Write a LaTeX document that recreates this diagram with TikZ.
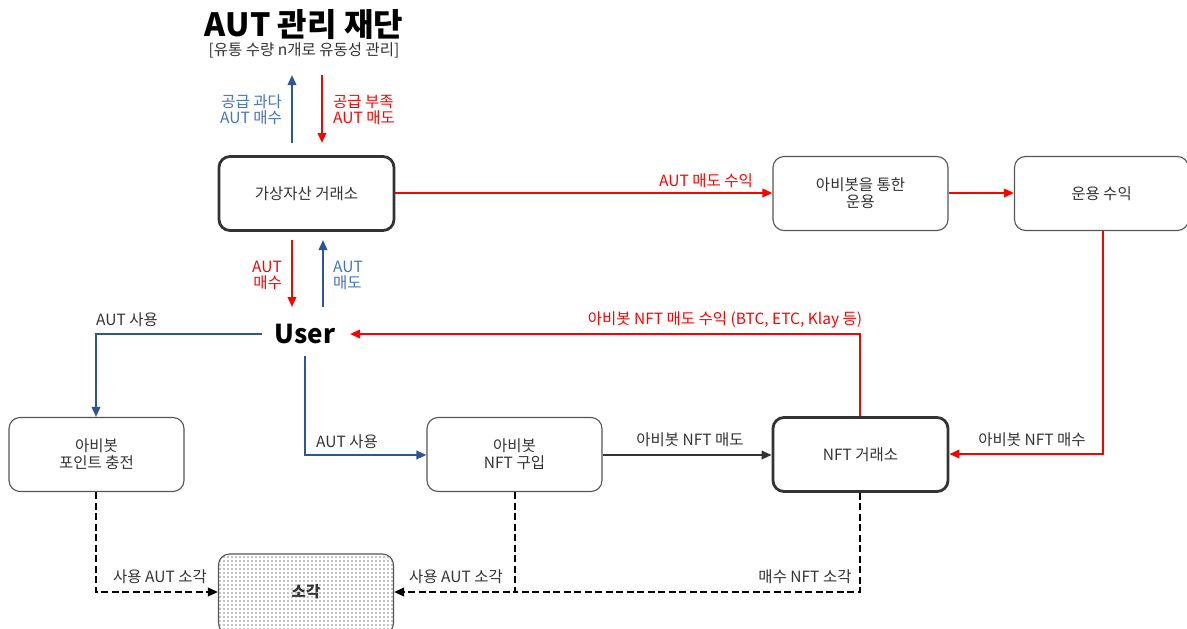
\documentclass[tikz,border=0pt]{standalone}
\usepackage{fontspec}
\setmainfont{Noto Sans CJK KR}
\usetikzlibrary{arrows.meta,patterns,positioning}
\definecolor{cred}{HTML}{FF0000}
\definecolor{cblue}{HTML}{2F5597}
\definecolor{lblue}{HTML}{4472C4}
\definecolor{ctext}{HTML}{333333}
\definecolor{cbord}{HTML}{555555}
\pgfdeclarepatternformonly{sparsedots}{\pgfqpoint{-1pt}{-1pt}}{\pgfqpoint{1pt}{1pt}}{\pgfqpoint{4pt}{4pt}}{%
  \pgfpathcircle{\pgfqpoint{0pt}{0pt}}{0.7pt}\pgfusepath{fill}}
\tikzset{
  x=1pt,y=-1pt,
  every node/.style={font=\fontsize{15.5}{18}\selectfont, text=ctext},
  boxthin/.style={draw=cbord, line width=1.1pt, rounded corners=11pt, minimum width=175pt, minimum height=74pt, align=center, inner sep=0pt},
  boxthick/.style={boxthin, draw=ctext, line width=2.8pt},
  tip/.style={-{Triangle[length=10pt,width=8.5pt]}},
  redarr/.style={tip, draw=cred, line width=2pt},
  bluearr/.style={tip, draw=cblue, line width=2pt},
  blackarr/.style={tip, draw=ctext, line width=2pt},
  dasharr/.style={tip, draw=black, line width=2pt, dash pattern=on 7pt off 3.5pt},
  lbl/.style={font=\fontsize{15.5}{18}\selectfont, inner sep=1pt},
}
\begin{document}
\begin{tikzpicture}
\fill[white] (0,0) rectangle (1187,629);
\useasboundingbox (0,0) rectangle (1187,629);

% title
\node[font=\fontsize{32}{36}\selectfont\bfseries, text=black] (title) at (304,25) {AUT 관리 재단};
\node[font=\fontsize{15.5}{18}\selectfont] (sub) at (304,50) {[유통 수량 n개로 유동성 관리]};

% boxes
\node[boxthick] (exch) at (306.5,193.5) {가상자산 거래소};
\node[boxthin] (oper) at (860.5,193.5) {아비봇을 통한\\[-1pt]운용};
\node[boxthin, minimum width=174pt] (prof) at (1101.5,193.5) {운용 수익};
\node[boxthin] (point) at (96.5,454.5) {아비봇\\[-1pt]포인트 충전};
\node[boxthin] (buy) at (514.5,454.5) {아비봇\\[-1pt]NFT 구입};
\node[boxthick] (nftex) at (860.5,454.5) {NFT 거래소};
\node[boxthin, pattern=sparsedots, pattern color=black, minimum height=80pt] (burn) at (306,594) {};
\node[font=\fontsize{15.5}{18}\selectfont\bfseries] (burnlbl) at (306,592) {소각};

\node[font=\fontsize{26}{30}\selectfont\bfseries, text=black, inner sep=0pt] (user) at (305,334) {User};

% foundation arrows
\coordinate (fa1) at (292,143); \coordinate (fa2) at (292,75);
\coordinate (fb1) at (322,75); \coordinate (fb2) at (322,143);
\draw[bluearr] (fa1) -- (fa2);
\draw[redarr] (fb1) -- (fb2);
\node[lbl, text=lblue, align=right, anchor=east] (l1) at (283,110) {공급 과다\\[-2pt]AUT 매수};
\node[lbl, text=cred, align=left, anchor=west] (l2) at (332,110) {공급 부족\\[-2pt]AUT 매도};

% exchange <-> user
\draw[redarr] (292,240) coordinate (e1) -- (292,307) coordinate (e2);
\draw[bluearr] (323,307) coordinate (e3) -- (323,240) coordinate (e4);
\node[lbl, text=cred, align=right, anchor=east] (l3) at (283,275) {AUT\\[-2pt]매수};
\node[lbl, text=lblue, align=left, anchor=west] (l4) at (332,275) {AUT\\[-2pt]매도};

% top red flow
\coordinate (ty) at (0,193);
\draw[redarr] (exch.east |- ty) -- (oper.west |- ty);
\node[lbl, text=cred] (l5) at (706,181) {AUT 매도 수익};
\draw[redarr] (oper.east |- ty) -- (prof.west |- ty);
\coordinate (pc) at (1103,454);
\draw[redarr] (prof.south -| pc) -- (pc) -- (nftex.east |- pc);
\node[lbl] (l6) at (1032,440) {아비봇 NFT 매수};
\coordinate (nc) at (860,334);
\draw[redarr] (nftex.north -| nc) -- (nc) -- (350,334) coordinate (ue);
\node[lbl, text=cred] (l7) at (725,320) {아비봇 NFT 매도 수익 (BTC, ETC, Klay 등)};

% user usage
\coordinate (uc) at (96,334);
\draw[bluearr] (262,334) coordinate (ul) -- (uc) -- (point.north -| uc);
\node[lbl] (l8) at (127,320) {AUT 사용};
\coordinate (uc2) at (305,455);
\draw[bluearr] (305,356) coordinate (ub) -- (uc2) -- (buy.west |- uc2);
\node[lbl] (l9) at (347,442) {AUT 사용};
\draw[blackarr] (buy.east |- uc2) -- (nftex.west |- uc2);
\node[lbl] (l10) at (690,440) {아비봇 NFT 매도};

% burns
\coordinate (b1) at (96,592); \coordinate (b2) at (515,592); \coordinate (b3) at (860,592);
\draw[dasharr] (point.south -| b1) -- (b1) -- (burn.west |- b1);
\node[lbl] (l11) at (160,577) {사용 AUT 소각};
\draw[dasharr] (buy.south -| b2) -- (b2) -- (burn.east |- b1);
\node[lbl] (l12) at (456,577) {사용 AUT 소각};
\draw[dash pattern=on 7pt off 3.5pt, line width=2pt] (nftex.south -| b3) -- (b3) -- (b2);
\node[lbl] (l13) at (805,577) {매수 NFT 소각};
\end{tikzpicture}
\end{document}
